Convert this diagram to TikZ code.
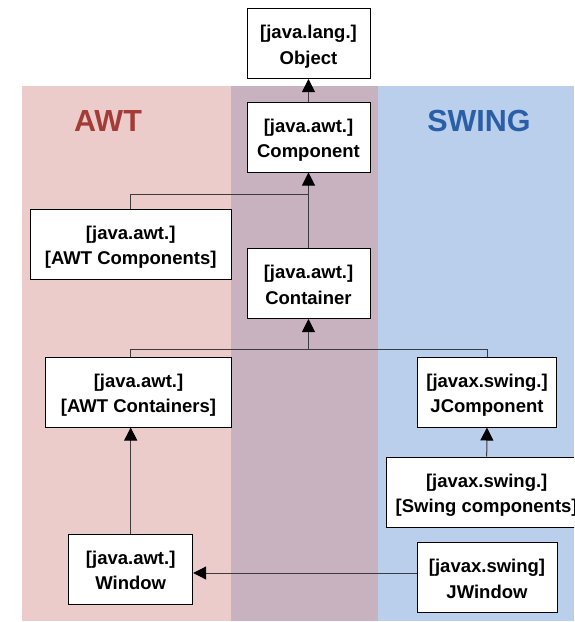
\documentclass[tikz,border=0pt]{standalone}
\usepackage{fontspec}
\setmainfont{Liberation Sans}
\usetikzlibrary{arrows.meta}
\definecolor{awtbg}{RGB}{235,204,203}
\definecolor{midbg}{RGB}{200,178,191}
\definecolor{swingbg}{RGB}{185,207,236}
\definecolor{awtred}{RGB}{163,60,55}
\definecolor{swingblue}{RGB}{42,95,167}
\definecolor{linegray}{RGB}{60,60,60}
\newcommand{\twolines}[2]{\rule{0pt}{20.5pt}#1\\\relax#2\rule[-5pt]{0pt}{5pt}}
\begin{document}
\begin{tikzpicture}[x=1pt,y=-1pt,
  box/.style={draw=black, fill=white, line width=1pt, inner sep=0pt, align=center,
    minimum height=70pt, font=\fontsize{18.5}{25.5}\selectfont\bfseries},
  conn/.style={draw=linegray, line width=1pt},
  tip/.style={-{Triangle[width=13pt,length=13pt,color=black]}},
  title/.style={font=\fontsize{30.5}{36}\selectfont\bfseries, inner sep=0pt}]
\useasboundingbox (0,0) rectangle (574,622);
\clip (0,0) rectangle (574,622);
% backgrounds
\fill[awtbg] (22,86) rectangle (231,621);
\fill[midbg] (231,86) rectangle (377.5,621);
\fill[swingbg] (377.5,86) rectangle (574,621);
\node[title, text=awtred] (awt) at (108,121) {AWT};
\node[title, text=swingblue] (swing) at (479,121) {SWING};
% boxes
\node[box, minimum width=123pt] (obj) at (308.5,43.5) {\twolines{[java.lang.]}{Object}};
\node[box, minimum width=123pt] (comp) at (308.5,137) {\twolines{[java.awt.]}{Component}};
\node[box, minimum width=123pt] (cont) at (308.5,283.5) {\twolines{[java.awt.]}{Container}};
\node[box, minimum width=201pt] (awtcomp) at (130.7,244) {\twolines{[java.awt.]}{[AWT Components]}};
\node[box, minimum width=186pt] (awtcont) at (138.5,392) {\twolines{[java.awt.]}{[AWT Containers]}};
\node[box, minimum width=139.5pt] (jcomp) at (487,392) {\twolines{[javax.swing.]}{JComponent}};
\node[box, minimum width=200pt] (swingcomp) at (486.7,492) {\twolines{[javax.swing.]}{[Swing components]}};
\node[box, minimum width=124pt] (win) at (130.7,569) {\twolines{[java.awt.]}{Window}};
\node[box, minimum width=140pt] (jwin) at (487,577.5) {\twolines{[javax.swing]}{JWindow}};
% connectors
\coordinate (j1) at (308.5,194.3);
\coordinate (j2) at (308.5,349);
\draw[conn,tip] (comp.north) -- (obj.south);
\draw[conn,tip] (cont.north) -- (comp.south);
\draw[conn] (awtcomp.north) |- (j1);
\draw[conn] (win.north |- awtcont.north) |- (j2);
\draw[conn] (jcomp.north) |- (j2);
\draw[conn,tip] (j2) -- (cont.south);
\draw[conn,tip] (swingcomp.north) -- (jcomp.south);
\draw[conn,tip] (win.north) -- (win.north |- awtcont.south);
\coordinate (jw) at ([yshift=4.5pt]jwin.west);
\draw[conn,tip] (jw) -- (jw -| win.east);
\end{tikzpicture}
\end{document}
